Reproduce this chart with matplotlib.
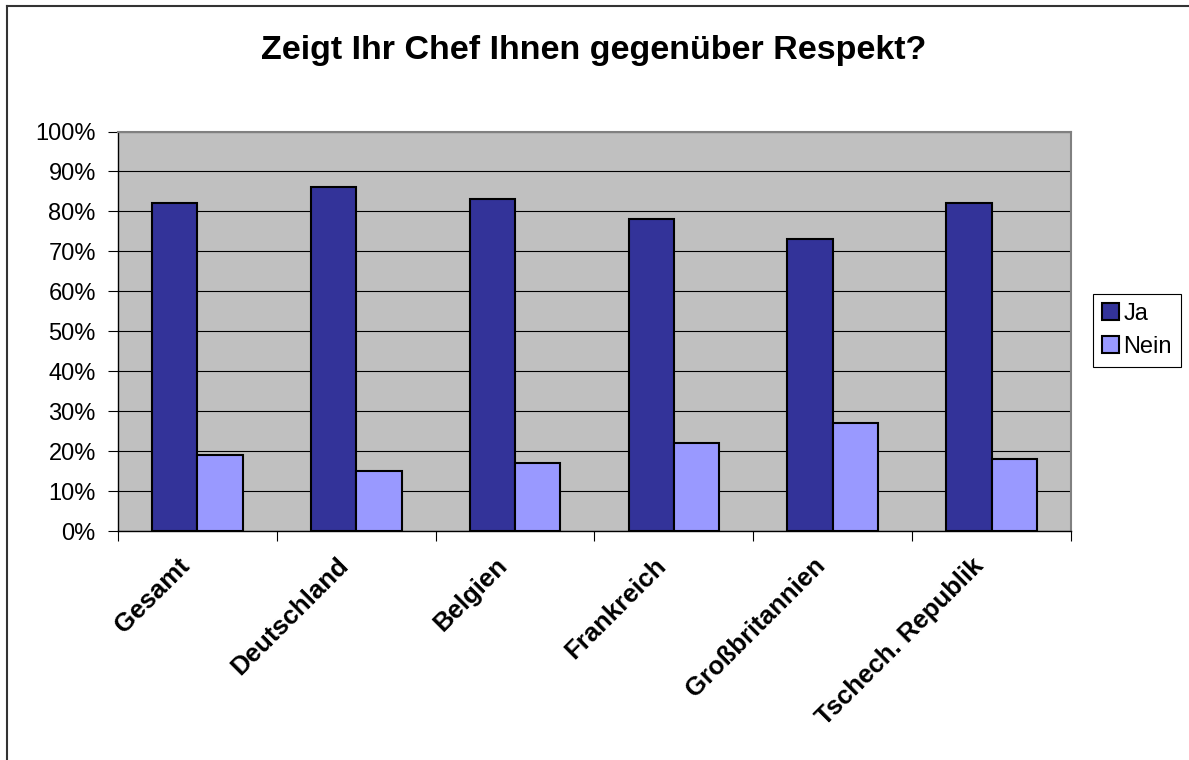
"""
Zeigt Ihr Chef Ihnen gegenueber Respekt? - grouped bar chart.
"""
import matplotlib
matplotlib.use("Agg")
import matplotlib.pyplot as plt
import matplotlib.transforms as mtransforms
from matplotlib.lines import Line2D
from matplotlib.ticker import FixedLocator, PercentFormatter
import numpy as np

categories = ["Gesamt", "Deutschland", "Belgien", "Frankreich",
              "Großbritannien", "Tschech. Republik"]
ja = [82, 86, 83, 78, 73, 82]
nein = [19, 15, 17, 22, 27, 18]
series_names = ["Ja", "Nein"]

plt.rcParams["font.family"] = ["Liberation Sans", "DejaVu Sans"]

fig = plt.figure(figsize=(11.89, 7.6), dpi=100)
ax = fig.add_axes([118 / 1189, 1 - 531 / 760, (1071 - 118) / 1189, (531 - 131.5) / 760])
ax.set_facecolor("#C0C0C0")

x = np.arange(len(categories))
w = 1 / 3.5
ax.bar(x - w / 2, ja, width=w, color="#333399", edgecolor="black", linewidth=1.5,
       label=series_names[0], zorder=3)
ax.bar(x + w / 2, nein, width=w, color="#9999FF", edgecolor="black", linewidth=1.5,
       label=series_names[1], zorder=3)

ax.set_xlim(-0.5, len(categories) - 0.5)
ax.set_ylim(0, 100)
ax.set_yticks(np.arange(0, 101, 10))
ax.yaxis.set_major_formatter(PercentFormatter(decimals=0))
ax.yaxis.grid(True, color="black", linewidth=0.8, zorder=1)
ax.set_axisbelow(True)

# category boundaries as major ticks, labels on minor ticks
ax.xaxis.set_major_locator(FixedLocator(np.arange(-0.5, len(categories), 1)))
ax.xaxis.set_major_formatter(plt.NullFormatter())
ax.xaxis.set_minor_locator(FixedLocator(x))
ax.tick_params(axis="x", which="major", direction="out", length=7, width=0.8)
ax.tick_params(axis="x", which="minor", length=0, pad=16)
ax.tick_params(axis="y", direction="out", length=7, width=0.8, labelsize=17, pad=9)
labels = ax.set_xticklabels(categories, minor=True, rotation=45, ha="right",
                            rotation_mode="anchor", fontsize=18.5, fontweight="bold")
# Excel puts the end of each label a little left of the category centre
shift = mtransforms.ScaledTranslation(-20 / 100, 0, fig.dpi_scale_trans)
for lab in labels:
    lab.set_transform(lab.get_transform() + shift)

for side in ("top", "right"):
    ax.spines[side].set_color("#808080")
    ax.spines[side].set_linewidth(1.5)
for side in ("left", "bottom"):
    ax.spines[side].set_color("black")
    ax.spines[side].set_linewidth(1.0)

fig.text(0.499, 1 - 50 / 760, "Zeigt Ihr Chef Ihnen gegenüber Respekt?",
         ha="center", va="center", fontsize=24.5, fontweight="bold")

leg = fig.legend(loc="upper left", bbox_to_anchor=(1093 / 1189, 1 - 294 / 760),
                 fontsize=17, fancybox=False, edgecolor="black", framealpha=1,
                 handlelength=0.7, handleheight=0.7, handletextpad=0.2,
                 borderpad=0.38, labelspacing=0.45, borderaxespad=0)
leg.get_frame().set_linewidth(0.8)

# outer chart border (only top and left are visible in the picture)
fig.add_artist(Line2D([7 / 1189, 7 / 1189], [0, 1 - 6 / 760], transform=fig.transFigure,
                      color="#333333", linewidth=1.5))
fig.add_artist(Line2D([7 / 1189, 1], [1 - 6 / 760, 1 - 6 / 760], transform=fig.transFigure,
                      color="#333333", linewidth=1.5))

fig.savefig("out.png", dpi=100)
